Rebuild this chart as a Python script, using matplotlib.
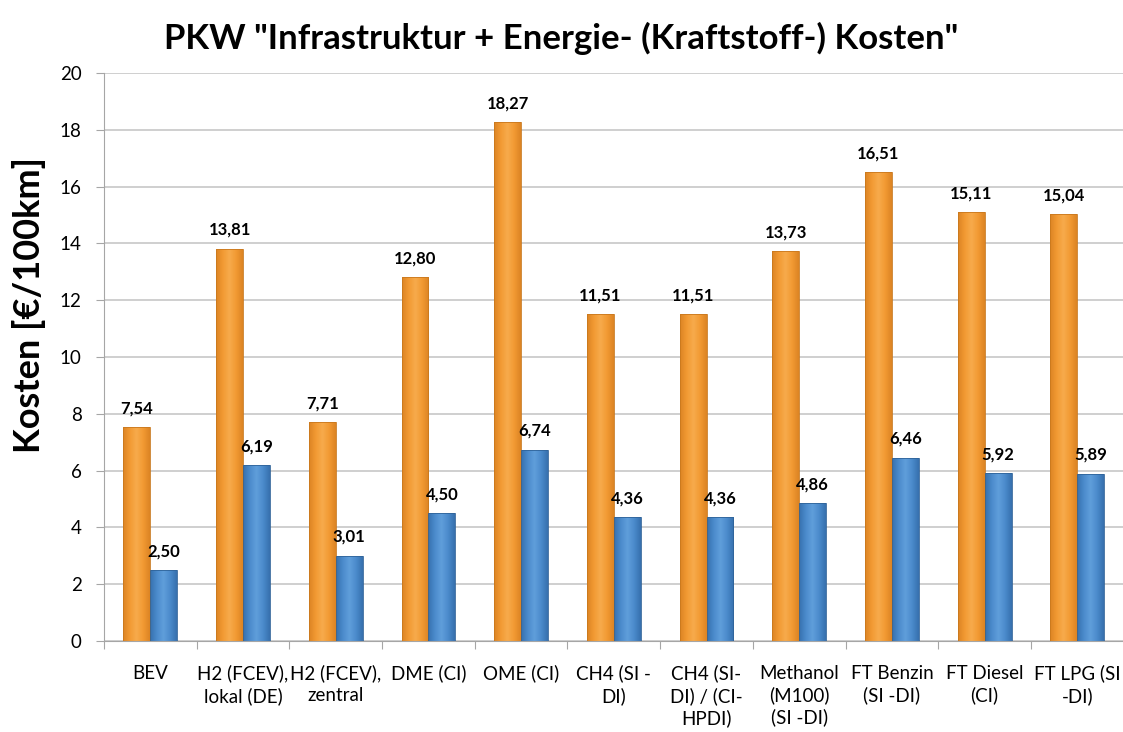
import numpy as np
import matplotlib
matplotlib.use("Agg")
import matplotlib.pyplot as plt
from matplotlib.colors import LinearSegmentedColormap

categories = ["BEV", "H2 (FCEV),\nlokal (DE)", "H2 (FCEV),\nzentral", "DME (CI)", "OME (CI)",
              "CH4 (SI -\nDI)", "CH4 (SI-\nDI) / (CI-\nHPDI)", "Methanol\n(M100)\n(SI -DI)",
              "FT Benzin\n(SI -DI)", "FT Diesel\n(CI)", "FT LPG (SI\n-DI)"]
orange_vals = [7.54, 13.81, 7.71, 12.80, 18.27, 11.51, 11.51, 13.73, 16.51, 15.11, 15.04]
blue_vals = [2.50, 6.19, 3.01, 4.50, 6.74, 4.36, 4.36, 4.86, 6.46, 5.92, 5.89]

plt.rcParams['font.family'] = ['Lato', 'DejaVu Sans']

fig = plt.figure(figsize=(11.23, 7.32), dpi=100)
# right edge of the last category is cut off by the image border, like in the original
ax = fig.add_axes([0.0926, 0.1243, 0.908, 0.776])

x = np.arange(len(categories))
w = 0.29

orange_cmap = LinearSegmentedColormap.from_list("o", ["#DC8424", "#F29A33", "#F7AB4C", "#F29A33", "#DC8424"])
blue_cmap = LinearSegmentedColormap.from_list("b", ["#3770AE", "#4B8BCC", "#609FDB", "#4B8BCC", "#3770AE"])

def gradient_bars(bars, cmap, edge):
    grad = np.linspace(0, 1, 64).reshape(1, -1)
    for b in bars:
        x0, y0 = b.get_x(), b.get_y()
        bw, bh = b.get_width(), b.get_height()
        im = ax.imshow(grad, cmap=cmap, aspect='auto', extent=[x0, x0 + bw, y0, y0 + bh],
                       zorder=2, interpolation='bicubic')
        im.set_clip_path(b)
        b.set_facecolor('none')
        b.set_edgecolor(edge)
        b.set_linewidth(0.6)
        b.set_zorder(3)

b1 = ax.bar(x - w / 2, orange_vals, w, color='#F29A33')
b2 = ax.bar(x + w / 2, blue_vals, w, color='#4B8BCC')
gradient_bars(b1, orange_cmap, '#C9781E')
gradient_bars(b2, blue_cmap, '#2F6399')

for xi, v in zip(x - w / 2, orange_vals):
    ax.text(xi, v + 0.38, f"{v:.2f}".replace('.', ','), ha='center', va='bottom',
            fontsize=12, fontweight='bold')
for xi, v in zip(x + w / 2, blue_vals):
    ax.text(xi, v + 0.38, f"{v:.2f}".replace('.', ','), ha='center', va='bottom',
            fontsize=12, fontweight='bold')

ax.set_xlim(-0.5, len(categories) - 0.5)
ax.set_ylim(0, 20)
ax.set_yticks(np.arange(0, 21, 2))
ax.set_xticks(np.arange(-0.5, len(categories), 1))
ax.set_xticklabels([])
ax.set_xticks(x, minor=True)
ax.set_xticklabels(categories, minor=True, fontsize=13.5, linespacing=1.3)
ax.tick_params(axis='x', which='minor', length=0, pad=17)
ax.tick_params(axis='x', which='major', length=6, color='#A6A6A6')
ax.tick_params(axis='y', labelsize=13.5, length=6, color='#A6A6A6', pad=10)

ax.grid(axis='y', color='#CCCCCC', linewidth=1.3, zorder=0)
ax.set_axisbelow(True)
for s in ['top', 'right']:
    ax.spines[s].set_visible(False)
ax.spines['left'].set_color('#A6A6A6')
ax.spines['bottom'].set_color('#A6A6A6')

# y label sits above the axis centre in the original
fig.text(29 / 1123, 1 - 305 / 732, "Kosten [€/100km]", rotation=90, ha='center', va='center',
         fontsize=26, fontweight='bold')
fig.text(0.5, 0.948, 'PKW "Infrastruktur + Energie- (Kraftstoff-) Kosten"', ha='center', va='center',
         fontsize=25, fontweight='bold')

fig.savefig("out.png", dpi=100)
